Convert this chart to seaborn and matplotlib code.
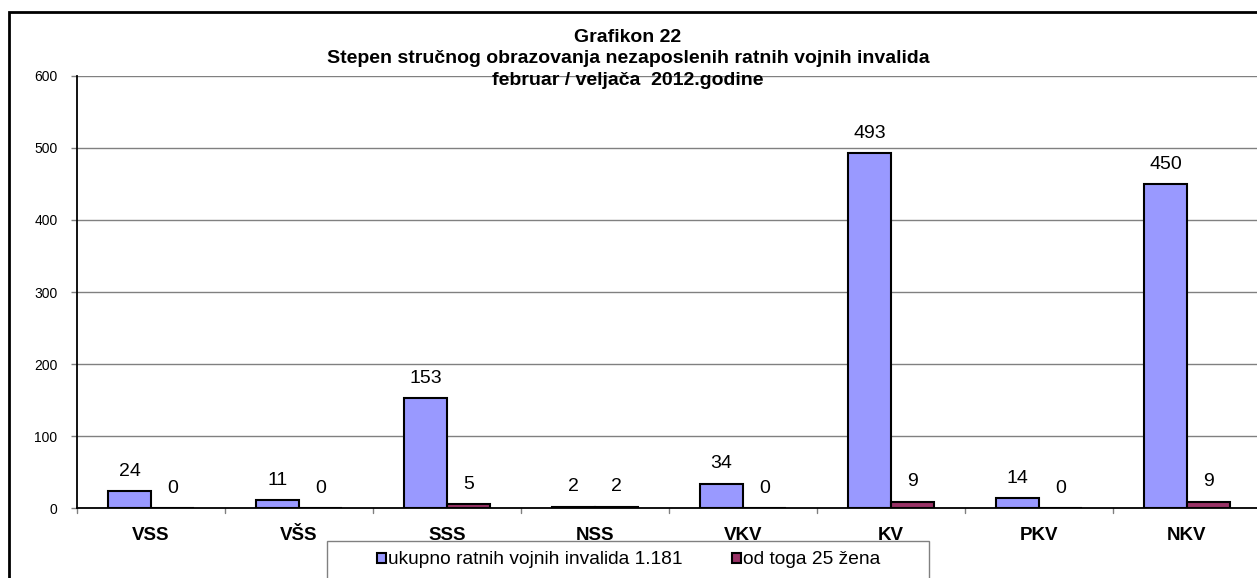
import matplotlib
matplotlib.use("Agg")
import matplotlib.pyplot as plt
import seaborn as sns
import pandas as pd
from matplotlib.patches import Rectangle

categories = ["VSS", "VŠS", "SSS", "NSS", "VKV", "KV", "PKV", "NKV"]
ukupno = [24, 11, 153, 2, 34, 493, 14, 450]
zene = [0, 0, 5, 2, 0, 9, 0, 9]
series_names = ["ukupno ratnih vojnih invalida 1.181", "od toga 25 žena"]
colors = ["#9999FF", "#993366"]
yticks = [0, 100, 200, 300, 400, 500, 600]

df = pd.DataFrame({
    "cat": categories * 2,
    "val": ukupno + zene,
    "series": [series_names[0]] * len(categories) + [series_names[1]] * len(categories),
})

sns.set_style("white")
plt.rcParams["font.family"] = ["Liberation Sans", "DejaVu Sans"]
plt.rcParams["text.color"] = "black"
plt.rcParams["xtick.color"] = "black"
plt.rcParams["ytick.color"] = "black"

W, H = 1257, 578
fig = plt.figure(figsize=(W / 100, H / 100), dpi=100)
left, right, top, bottom = 77, 1261, 76, 508
ax = fig.add_axes([left / W, 1 - bottom / H, (right - left) / W, (bottom - top) / H])

sns.barplot(data=df, x="cat", y="val", hue="series", palette=colors, ax=ax,
            width=0.58, edgecolor="black", linewidth=1.5, saturation=1, legend=True)

ax.set_ylim(0, 600)
ax.set_xlim(-0.5, len(categories) - 0.5)
ax.set_yticks(yticks)
ax.set_yticklabels([str(v) for v in yticks], fontsize=10)
ax.yaxis.grid(True, color="#808080", linewidth=1)
ax.set_axisbelow(True)
ax.set_xlabel("")
ax.set_ylabel("")
ax.set_xticks(range(len(categories)))
ax.set_xticklabels(categories, fontsize=13.5, fontweight="bold")
ax.tick_params(axis="x", length=0, pad=14)
ax.tick_params(axis="y", length=4, width=1, color="#808080", labelcolor="black",
               direction="out", left=True, pad=10)
for xb in [i - 0.5 for i in range(len(categories) + 1)]:
    ax.plot([xb, xb], [0, -0.012], transform=ax.get_xaxis_transform(), color="#808080",
            linewidth=1, clip_on=False)

for s in ["top", "right"]:
    ax.spines[s].set_visible(False)
ax.spines["left"].set_color("black")
ax.spines["bottom"].set_color("black")
ax.spines["left"].set_linewidth(1.3)
ax.spines["bottom"].set_linewidth(1.3)

for cont in ax.containers:
    for bar in cont:
        h = bar.get_height()
        ax.annotate(f"{int(round(h))}", (bar.get_x() + bar.get_width() / 2, h),
                    xytext=(0, 8), textcoords="offset points", ha="center", va="bottom",
                    fontsize=14)

# legend box (white, drawn over the axis labels like the original)
fig.patches.append(Rectangle((327 / W, -0.05), (929 - 327) / W, (578 - 541) / H + 0.05,
                             transform=fig.transFigure, facecolor="white", edgecolor="#808080",
                             linewidth=1, zorder=2))

handles, labels = ax.get_legend_handles_labels()
ax.get_legend().remove()
leg = fig.legend(handles, labels, loc="center left", bbox_to_anchor=(377 / W, 1 - 560 / H),
                 ncol=2, frameon=False, fontsize=13.8, handlelength=0.45, handleheight=0.45,
                 handletextpad=0.12, columnspacing=2.6, borderpad=0, borderaxespad=0)
leg.set_zorder(6)
for hnd in leg.legend_handles:
    hnd.set_edgecolor("black")
    hnd.set_linewidth(1.5)

# title
cx = 628 / W
fig.text(cx, 1 - 42 / H, "Grafikon 22", ha="center", va="baseline", fontsize=14, fontweight="bold")
fig.text(cx, 1 - 63 / H, "Stepen stručnog obrazovanja nezaposlenih ratnih vojnih invalida",
         ha="center", va="baseline", fontsize=14, fontweight="bold")
fig.text(cx, 1 - 85 / H, "februar / veljača  2012.godine", ha="center", va="baseline",
         fontsize=14, fontweight="bold")

# outer frame
fig.patches.append(Rectangle((9 / W, -0.05), 1.2, 1 - 12 / H + 0.05, transform=fig.transFigure,
                             fill=False, edgecolor="black", linewidth=2))

fig.savefig("out.png", dpi=100)
